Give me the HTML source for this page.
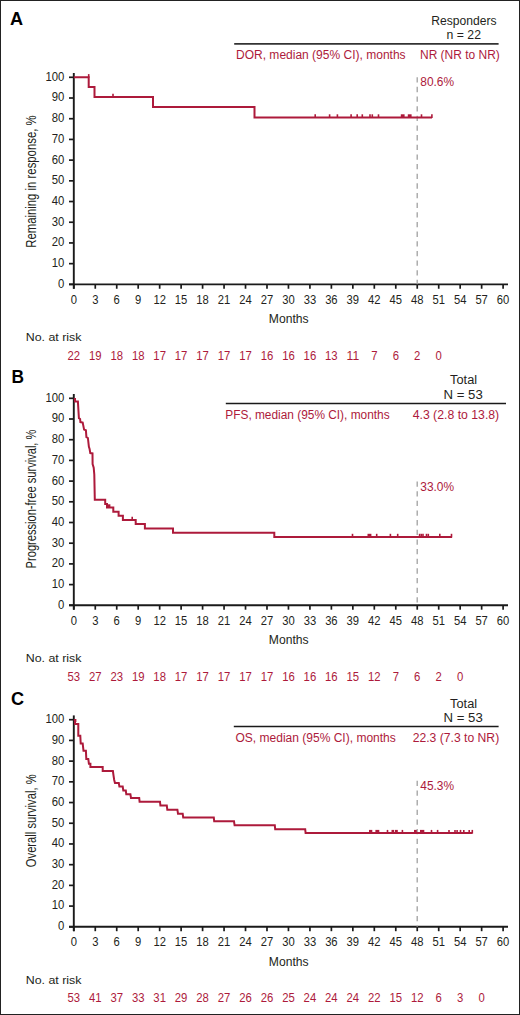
<!DOCTYPE html>
<html><head><meta charset="utf-8"><title>Kaplan-Meier curves</title>
<style>
html,body{margin:0;padding:0;background:#fff;}
body{width:520px;height:1015px;overflow:hidden;}
.frame{position:absolute;left:0;top:0;width:518px;height:1013px;border:1px solid #222;}
svg{position:absolute;left:0;top:0;display:block;font-family:"Liberation Sans", sans-serif;}
</style></head>
<body>
<div class="frame"></div>
<svg width="520" height="1015" viewBox="0 0 520 1015">
<line x1="73.80" y1="73.00" x2="73.80" y2="288.75" stroke="#1a1a1a" stroke-width="1.9"/>
<line x1="69.00" y1="284.35" x2="508.00" y2="284.35" stroke="#1a1a1a" stroke-width="1.9"/>
<line x1="69.00" y1="284.35" x2="73.80" y2="284.35" stroke="#1a1a1a" stroke-width="1.7"/>
<text x="64.30" y="287.75" font-size="12.6" text-anchor="end" fill="#231f20" font-weight="normal" textLength="6.30" lengthAdjust="spacingAndGlyphs">0</text>
<line x1="69.00" y1="263.65" x2="73.80" y2="263.65" stroke="#1a1a1a" stroke-width="1.7"/>
<text x="64.30" y="267.05" font-size="12.6" text-anchor="end" fill="#231f20" font-weight="normal" textLength="12.60" lengthAdjust="spacingAndGlyphs">10</text>
<line x1="69.00" y1="242.94" x2="73.80" y2="242.94" stroke="#1a1a1a" stroke-width="1.7"/>
<text x="64.30" y="246.34" font-size="12.6" text-anchor="end" fill="#231f20" font-weight="normal" textLength="12.60" lengthAdjust="spacingAndGlyphs">20</text>
<line x1="69.00" y1="222.24" x2="73.80" y2="222.24" stroke="#1a1a1a" stroke-width="1.7"/>
<text x="64.30" y="225.64" font-size="12.6" text-anchor="end" fill="#231f20" font-weight="normal" textLength="12.60" lengthAdjust="spacingAndGlyphs">30</text>
<line x1="69.00" y1="201.53" x2="73.80" y2="201.53" stroke="#1a1a1a" stroke-width="1.7"/>
<text x="64.30" y="204.93" font-size="12.6" text-anchor="end" fill="#231f20" font-weight="normal" textLength="12.60" lengthAdjust="spacingAndGlyphs">40</text>
<line x1="69.00" y1="180.83" x2="73.80" y2="180.83" stroke="#1a1a1a" stroke-width="1.7"/>
<text x="64.30" y="184.23" font-size="12.6" text-anchor="end" fill="#231f20" font-weight="normal" textLength="12.60" lengthAdjust="spacingAndGlyphs">50</text>
<line x1="69.00" y1="160.12" x2="73.80" y2="160.12" stroke="#1a1a1a" stroke-width="1.7"/>
<text x="64.30" y="163.52" font-size="12.6" text-anchor="end" fill="#231f20" font-weight="normal" textLength="12.60" lengthAdjust="spacingAndGlyphs">60</text>
<line x1="69.00" y1="139.42" x2="73.80" y2="139.42" stroke="#1a1a1a" stroke-width="1.7"/>
<text x="64.30" y="142.82" font-size="12.6" text-anchor="end" fill="#231f20" font-weight="normal" textLength="12.60" lengthAdjust="spacingAndGlyphs">70</text>
<line x1="69.00" y1="118.71" x2="73.80" y2="118.71" stroke="#1a1a1a" stroke-width="1.7"/>
<text x="64.30" y="122.11" font-size="12.6" text-anchor="end" fill="#231f20" font-weight="normal" textLength="12.60" lengthAdjust="spacingAndGlyphs">80</text>
<line x1="69.00" y1="98.01" x2="73.80" y2="98.01" stroke="#1a1a1a" stroke-width="1.7"/>
<text x="64.30" y="101.41" font-size="12.6" text-anchor="end" fill="#231f20" font-weight="normal" textLength="12.60" lengthAdjust="spacingAndGlyphs">90</text>
<line x1="69.00" y1="77.30" x2="73.80" y2="77.30" stroke="#1a1a1a" stroke-width="1.7"/>
<text x="64.30" y="80.70" font-size="12.6" text-anchor="end" fill="#231f20" font-weight="normal" textLength="18.90" lengthAdjust="spacingAndGlyphs">100</text>
<line x1="73.80" y1="284.35" x2="73.80" y2="288.75" stroke="#1a1a1a" stroke-width="1.7"/>
<text x="73.80" y="303.65" font-size="12.6" text-anchor="middle" fill="#231f20" font-weight="normal" textLength="6.25" lengthAdjust="spacingAndGlyphs">0</text>
<line x1="95.27" y1="284.35" x2="95.27" y2="288.75" stroke="#1a1a1a" stroke-width="1.7"/>
<text x="95.27" y="303.65" font-size="12.6" text-anchor="middle" fill="#231f20" font-weight="normal" textLength="6.25" lengthAdjust="spacingAndGlyphs">3</text>
<line x1="116.73" y1="284.35" x2="116.73" y2="288.75" stroke="#1a1a1a" stroke-width="1.7"/>
<text x="116.73" y="303.65" font-size="12.6" text-anchor="middle" fill="#231f20" font-weight="normal" textLength="6.25" lengthAdjust="spacingAndGlyphs">6</text>
<line x1="138.19" y1="284.35" x2="138.19" y2="288.75" stroke="#1a1a1a" stroke-width="1.7"/>
<text x="138.19" y="303.65" font-size="12.6" text-anchor="middle" fill="#231f20" font-weight="normal" textLength="6.25" lengthAdjust="spacingAndGlyphs">9</text>
<line x1="159.66" y1="284.35" x2="159.66" y2="288.75" stroke="#1a1a1a" stroke-width="1.7"/>
<text x="159.66" y="303.65" font-size="12.6" text-anchor="middle" fill="#231f20" font-weight="normal" textLength="12.50" lengthAdjust="spacingAndGlyphs">12</text>
<line x1="181.12" y1="284.35" x2="181.12" y2="288.75" stroke="#1a1a1a" stroke-width="1.7"/>
<text x="181.12" y="303.65" font-size="12.6" text-anchor="middle" fill="#231f20" font-weight="normal" textLength="12.50" lengthAdjust="spacingAndGlyphs">15</text>
<line x1="202.59" y1="284.35" x2="202.59" y2="288.75" stroke="#1a1a1a" stroke-width="1.7"/>
<text x="202.59" y="303.65" font-size="12.6" text-anchor="middle" fill="#231f20" font-weight="normal" textLength="12.50" lengthAdjust="spacingAndGlyphs">18</text>
<line x1="224.06" y1="284.35" x2="224.06" y2="288.75" stroke="#1a1a1a" stroke-width="1.7"/>
<text x="224.06" y="303.65" font-size="12.6" text-anchor="middle" fill="#231f20" font-weight="normal" textLength="12.50" lengthAdjust="spacingAndGlyphs">21</text>
<line x1="245.52" y1="284.35" x2="245.52" y2="288.75" stroke="#1a1a1a" stroke-width="1.7"/>
<text x="245.52" y="303.65" font-size="12.6" text-anchor="middle" fill="#231f20" font-weight="normal" textLength="12.50" lengthAdjust="spacingAndGlyphs">24</text>
<line x1="266.99" y1="284.35" x2="266.99" y2="288.75" stroke="#1a1a1a" stroke-width="1.7"/>
<text x="266.99" y="303.65" font-size="12.6" text-anchor="middle" fill="#231f20" font-weight="normal" textLength="12.50" lengthAdjust="spacingAndGlyphs">27</text>
<line x1="288.45" y1="284.35" x2="288.45" y2="288.75" stroke="#1a1a1a" stroke-width="1.7"/>
<text x="288.45" y="303.65" font-size="12.6" text-anchor="middle" fill="#231f20" font-weight="normal" textLength="12.50" lengthAdjust="spacingAndGlyphs">30</text>
<line x1="309.92" y1="284.35" x2="309.92" y2="288.75" stroke="#1a1a1a" stroke-width="1.7"/>
<text x="309.92" y="303.65" font-size="12.6" text-anchor="middle" fill="#231f20" font-weight="normal" textLength="12.50" lengthAdjust="spacingAndGlyphs">33</text>
<line x1="331.38" y1="284.35" x2="331.38" y2="288.75" stroke="#1a1a1a" stroke-width="1.7"/>
<text x="331.38" y="303.65" font-size="12.6" text-anchor="middle" fill="#231f20" font-weight="normal" textLength="12.50" lengthAdjust="spacingAndGlyphs">36</text>
<line x1="352.85" y1="284.35" x2="352.85" y2="288.75" stroke="#1a1a1a" stroke-width="1.7"/>
<text x="352.85" y="303.65" font-size="12.6" text-anchor="middle" fill="#231f20" font-weight="normal" textLength="12.50" lengthAdjust="spacingAndGlyphs">39</text>
<line x1="374.31" y1="284.35" x2="374.31" y2="288.75" stroke="#1a1a1a" stroke-width="1.7"/>
<text x="374.31" y="303.65" font-size="12.6" text-anchor="middle" fill="#231f20" font-weight="normal" textLength="12.50" lengthAdjust="spacingAndGlyphs">42</text>
<line x1="395.78" y1="284.35" x2="395.78" y2="288.75" stroke="#1a1a1a" stroke-width="1.7"/>
<text x="395.78" y="303.65" font-size="12.6" text-anchor="middle" fill="#231f20" font-weight="normal" textLength="12.50" lengthAdjust="spacingAndGlyphs">45</text>
<line x1="417.24" y1="284.35" x2="417.24" y2="288.75" stroke="#1a1a1a" stroke-width="1.7"/>
<text x="417.24" y="303.65" font-size="12.6" text-anchor="middle" fill="#231f20" font-weight="normal" textLength="12.50" lengthAdjust="spacingAndGlyphs">48</text>
<line x1="438.71" y1="284.35" x2="438.71" y2="288.75" stroke="#1a1a1a" stroke-width="1.7"/>
<text x="438.71" y="303.65" font-size="12.6" text-anchor="middle" fill="#231f20" font-weight="normal" textLength="12.50" lengthAdjust="spacingAndGlyphs">51</text>
<line x1="460.17" y1="284.35" x2="460.17" y2="288.75" stroke="#1a1a1a" stroke-width="1.7"/>
<text x="460.17" y="303.65" font-size="12.6" text-anchor="middle" fill="#231f20" font-weight="normal" textLength="12.50" lengthAdjust="spacingAndGlyphs">54</text>
<line x1="481.64" y1="284.35" x2="481.64" y2="288.75" stroke="#1a1a1a" stroke-width="1.7"/>
<text x="481.64" y="303.65" font-size="12.6" text-anchor="middle" fill="#231f20" font-weight="normal" textLength="12.50" lengthAdjust="spacingAndGlyphs">57</text>
<line x1="503.10" y1="284.35" x2="503.10" y2="288.75" stroke="#1a1a1a" stroke-width="1.7"/>
<text x="503.10" y="303.65" font-size="12.6" text-anchor="middle" fill="#231f20" font-weight="normal" textLength="12.50" lengthAdjust="spacingAndGlyphs">60</text>
<text x="288.70" y="323.25" font-size="13.6" text-anchor="middle" fill="#231f20" font-weight="normal" textLength="39.80" lengthAdjust="spacingAndGlyphs">Months</text>
<text x="25.70" y="341.45" font-size="11.4" text-anchor="start" fill="#231f20" font-weight="normal" textLength="55.80" lengthAdjust="spacingAndGlyphs">No. at risk</text>
<text x="73.80" y="359.55" font-size="12.6" text-anchor="middle" fill="#ad1a3b" font-weight="normal" textLength="12.60" lengthAdjust="spacingAndGlyphs">22</text>
<text x="95.27" y="359.55" font-size="12.6" text-anchor="middle" fill="#ad1a3b" font-weight="normal" textLength="12.60" lengthAdjust="spacingAndGlyphs">19</text>
<text x="116.73" y="359.55" font-size="12.6" text-anchor="middle" fill="#ad1a3b" font-weight="normal" textLength="12.60" lengthAdjust="spacingAndGlyphs">18</text>
<text x="138.19" y="359.55" font-size="12.6" text-anchor="middle" fill="#ad1a3b" font-weight="normal" textLength="12.60" lengthAdjust="spacingAndGlyphs">18</text>
<text x="159.66" y="359.55" font-size="12.6" text-anchor="middle" fill="#ad1a3b" font-weight="normal" textLength="12.60" lengthAdjust="spacingAndGlyphs">17</text>
<text x="181.12" y="359.55" font-size="12.6" text-anchor="middle" fill="#ad1a3b" font-weight="normal" textLength="12.60" lengthAdjust="spacingAndGlyphs">17</text>
<text x="202.59" y="359.55" font-size="12.6" text-anchor="middle" fill="#ad1a3b" font-weight="normal" textLength="12.60" lengthAdjust="spacingAndGlyphs">17</text>
<text x="224.06" y="359.55" font-size="12.6" text-anchor="middle" fill="#ad1a3b" font-weight="normal" textLength="12.60" lengthAdjust="spacingAndGlyphs">17</text>
<text x="245.52" y="359.55" font-size="12.6" text-anchor="middle" fill="#ad1a3b" font-weight="normal" textLength="12.60" lengthAdjust="spacingAndGlyphs">17</text>
<text x="266.99" y="359.55" font-size="12.6" text-anchor="middle" fill="#ad1a3b" font-weight="normal" textLength="12.60" lengthAdjust="spacingAndGlyphs">16</text>
<text x="288.45" y="359.55" font-size="12.6" text-anchor="middle" fill="#ad1a3b" font-weight="normal" textLength="12.60" lengthAdjust="spacingAndGlyphs">16</text>
<text x="309.92" y="359.55" font-size="12.6" text-anchor="middle" fill="#ad1a3b" font-weight="normal" textLength="12.60" lengthAdjust="spacingAndGlyphs">16</text>
<text x="331.38" y="359.55" font-size="12.6" text-anchor="middle" fill="#ad1a3b" font-weight="normal" textLength="12.60" lengthAdjust="spacingAndGlyphs">13</text>
<text x="352.85" y="359.55" font-size="12.6" text-anchor="middle" fill="#ad1a3b" font-weight="normal" textLength="12.60" lengthAdjust="spacingAndGlyphs">11</text>
<text x="374.31" y="359.55" font-size="12.6" text-anchor="middle" fill="#ad1a3b" font-weight="normal" textLength="6.30" lengthAdjust="spacingAndGlyphs">7</text>
<text x="395.78" y="359.55" font-size="12.6" text-anchor="middle" fill="#ad1a3b" font-weight="normal" textLength="6.30" lengthAdjust="spacingAndGlyphs">6</text>
<text x="417.24" y="359.55" font-size="12.6" text-anchor="middle" fill="#ad1a3b" font-weight="normal" textLength="6.30" lengthAdjust="spacingAndGlyphs">2</text>
<text x="438.71" y="359.55" font-size="12.6" text-anchor="middle" fill="#ad1a3b" font-weight="normal" textLength="6.30" lengthAdjust="spacingAndGlyphs">0</text>
<text transform="translate(36.0,181.60) rotate(-90)" x="0" y="0" font-size="14.6" text-anchor="middle" fill="#231f20" textLength="132.40" lengthAdjust="spacingAndGlyphs">Remaining in response, %</text>
<line x1="417.20" y1="77.20" x2="417.20" y2="284.30" stroke="#a0a0a0" stroke-width="1.3" stroke-dasharray="5.3,4.35"/>
<path d="M73.80,77.30 L88.70,77.30 L88.70,86.90 L94.50,86.90 L94.50,97.00 L153.00,97.00 L153.00,106.90 L254.50,106.90 L254.50,117.50 L432.00,117.50" fill="none" stroke="#ad1a3b" stroke-width="2" stroke-linejoin="miter" stroke-linecap="butt"/>
<line x1="88.70" y1="77.80" x2="88.70" y2="74.10" stroke="#ad1a3b" stroke-width="1.6"/>
<line x1="113.00" y1="97.50" x2="113.00" y2="93.80" stroke="#ad1a3b" stroke-width="1.6"/>
<line x1="315.20" y1="118.00" x2="315.20" y2="114.30" stroke="#ad1a3b" stroke-width="1.6"/>
<line x1="329.60" y1="118.00" x2="329.60" y2="114.30" stroke="#ad1a3b" stroke-width="1.6"/>
<line x1="337.40" y1="118.00" x2="337.40" y2="114.30" stroke="#ad1a3b" stroke-width="1.6"/>
<line x1="351.10" y1="118.00" x2="351.10" y2="114.30" stroke="#ad1a3b" stroke-width="1.6"/>
<line x1="357.20" y1="118.00" x2="357.20" y2="114.30" stroke="#ad1a3b" stroke-width="1.6"/>
<line x1="362.30" y1="118.00" x2="362.30" y2="114.30" stroke="#ad1a3b" stroke-width="1.6"/>
<line x1="370.00" y1="118.00" x2="370.00" y2="114.30" stroke="#ad1a3b" stroke-width="1.6"/>
<line x1="372.30" y1="118.00" x2="372.30" y2="114.30" stroke="#ad1a3b" stroke-width="1.6"/>
<line x1="378.50" y1="118.00" x2="378.50" y2="114.30" stroke="#ad1a3b" stroke-width="1.6"/>
<rect x="400.80" y="114.30" width="3.80" height="3.70" fill="#ad1a3b"/>
<rect x="407.80" y="114.30" width="3.80" height="3.70" fill="#ad1a3b"/>
<line x1="421.50" y1="118.00" x2="421.50" y2="114.30" stroke="#ad1a3b" stroke-width="1.6"/>
<line x1="431.90" y1="118.00" x2="431.90" y2="114.30" stroke="#ad1a3b" stroke-width="1.6"/>
<line x1="73.80" y1="394.00" x2="73.80" y2="609.70" stroke="#1a1a1a" stroke-width="1.9"/>
<line x1="69.00" y1="605.30" x2="508.00" y2="605.30" stroke="#1a1a1a" stroke-width="1.9"/>
<line x1="69.00" y1="605.30" x2="73.80" y2="605.30" stroke="#1a1a1a" stroke-width="1.7"/>
<text x="64.30" y="608.70" font-size="12.6" text-anchor="end" fill="#231f20" font-weight="normal" textLength="6.30" lengthAdjust="spacingAndGlyphs">0</text>
<line x1="69.00" y1="584.60" x2="73.80" y2="584.60" stroke="#1a1a1a" stroke-width="1.7"/>
<text x="64.30" y="588.00" font-size="12.6" text-anchor="end" fill="#231f20" font-weight="normal" textLength="12.60" lengthAdjust="spacingAndGlyphs">10</text>
<line x1="69.00" y1="563.90" x2="73.80" y2="563.90" stroke="#1a1a1a" stroke-width="1.7"/>
<text x="64.30" y="567.30" font-size="12.6" text-anchor="end" fill="#231f20" font-weight="normal" textLength="12.60" lengthAdjust="spacingAndGlyphs">20</text>
<line x1="69.00" y1="543.20" x2="73.80" y2="543.20" stroke="#1a1a1a" stroke-width="1.7"/>
<text x="64.30" y="546.60" font-size="12.6" text-anchor="end" fill="#231f20" font-weight="normal" textLength="12.60" lengthAdjust="spacingAndGlyphs">30</text>
<line x1="69.00" y1="522.50" x2="73.80" y2="522.50" stroke="#1a1a1a" stroke-width="1.7"/>
<text x="64.30" y="525.90" font-size="12.6" text-anchor="end" fill="#231f20" font-weight="normal" textLength="12.60" lengthAdjust="spacingAndGlyphs">40</text>
<line x1="69.00" y1="501.80" x2="73.80" y2="501.80" stroke="#1a1a1a" stroke-width="1.7"/>
<text x="64.30" y="505.20" font-size="12.6" text-anchor="end" fill="#231f20" font-weight="normal" textLength="12.60" lengthAdjust="spacingAndGlyphs">50</text>
<line x1="69.00" y1="481.10" x2="73.80" y2="481.10" stroke="#1a1a1a" stroke-width="1.7"/>
<text x="64.30" y="484.50" font-size="12.6" text-anchor="end" fill="#231f20" font-weight="normal" textLength="12.60" lengthAdjust="spacingAndGlyphs">60</text>
<line x1="69.00" y1="460.40" x2="73.80" y2="460.40" stroke="#1a1a1a" stroke-width="1.7"/>
<text x="64.30" y="463.80" font-size="12.6" text-anchor="end" fill="#231f20" font-weight="normal" textLength="12.60" lengthAdjust="spacingAndGlyphs">70</text>
<line x1="69.00" y1="439.70" x2="73.80" y2="439.70" stroke="#1a1a1a" stroke-width="1.7"/>
<text x="64.30" y="443.10" font-size="12.6" text-anchor="end" fill="#231f20" font-weight="normal" textLength="12.60" lengthAdjust="spacingAndGlyphs">80</text>
<line x1="69.00" y1="419.00" x2="73.80" y2="419.00" stroke="#1a1a1a" stroke-width="1.7"/>
<text x="64.30" y="422.40" font-size="12.6" text-anchor="end" fill="#231f20" font-weight="normal" textLength="12.60" lengthAdjust="spacingAndGlyphs">90</text>
<line x1="69.00" y1="398.30" x2="73.80" y2="398.30" stroke="#1a1a1a" stroke-width="1.7"/>
<text x="64.30" y="401.70" font-size="12.6" text-anchor="end" fill="#231f20" font-weight="normal" textLength="18.90" lengthAdjust="spacingAndGlyphs">100</text>
<line x1="73.80" y1="605.30" x2="73.80" y2="609.70" stroke="#1a1a1a" stroke-width="1.7"/>
<text x="73.80" y="624.60" font-size="12.6" text-anchor="middle" fill="#231f20" font-weight="normal" textLength="6.25" lengthAdjust="spacingAndGlyphs">0</text>
<line x1="95.27" y1="605.30" x2="95.27" y2="609.70" stroke="#1a1a1a" stroke-width="1.7"/>
<text x="95.27" y="624.60" font-size="12.6" text-anchor="middle" fill="#231f20" font-weight="normal" textLength="6.25" lengthAdjust="spacingAndGlyphs">3</text>
<line x1="116.73" y1="605.30" x2="116.73" y2="609.70" stroke="#1a1a1a" stroke-width="1.7"/>
<text x="116.73" y="624.60" font-size="12.6" text-anchor="middle" fill="#231f20" font-weight="normal" textLength="6.25" lengthAdjust="spacingAndGlyphs">6</text>
<line x1="138.19" y1="605.30" x2="138.19" y2="609.70" stroke="#1a1a1a" stroke-width="1.7"/>
<text x="138.19" y="624.60" font-size="12.6" text-anchor="middle" fill="#231f20" font-weight="normal" textLength="6.25" lengthAdjust="spacingAndGlyphs">9</text>
<line x1="159.66" y1="605.30" x2="159.66" y2="609.70" stroke="#1a1a1a" stroke-width="1.7"/>
<text x="159.66" y="624.60" font-size="12.6" text-anchor="middle" fill="#231f20" font-weight="normal" textLength="12.50" lengthAdjust="spacingAndGlyphs">12</text>
<line x1="181.12" y1="605.30" x2="181.12" y2="609.70" stroke="#1a1a1a" stroke-width="1.7"/>
<text x="181.12" y="624.60" font-size="12.6" text-anchor="middle" fill="#231f20" font-weight="normal" textLength="12.50" lengthAdjust="spacingAndGlyphs">15</text>
<line x1="202.59" y1="605.30" x2="202.59" y2="609.70" stroke="#1a1a1a" stroke-width="1.7"/>
<text x="202.59" y="624.60" font-size="12.6" text-anchor="middle" fill="#231f20" font-weight="normal" textLength="12.50" lengthAdjust="spacingAndGlyphs">18</text>
<line x1="224.06" y1="605.30" x2="224.06" y2="609.70" stroke="#1a1a1a" stroke-width="1.7"/>
<text x="224.06" y="624.60" font-size="12.6" text-anchor="middle" fill="#231f20" font-weight="normal" textLength="12.50" lengthAdjust="spacingAndGlyphs">21</text>
<line x1="245.52" y1="605.30" x2="245.52" y2="609.70" stroke="#1a1a1a" stroke-width="1.7"/>
<text x="245.52" y="624.60" font-size="12.6" text-anchor="middle" fill="#231f20" font-weight="normal" textLength="12.50" lengthAdjust="spacingAndGlyphs">24</text>
<line x1="266.99" y1="605.30" x2="266.99" y2="609.70" stroke="#1a1a1a" stroke-width="1.7"/>
<text x="266.99" y="624.60" font-size="12.6" text-anchor="middle" fill="#231f20" font-weight="normal" textLength="12.50" lengthAdjust="spacingAndGlyphs">27</text>
<line x1="288.45" y1="605.30" x2="288.45" y2="609.70" stroke="#1a1a1a" stroke-width="1.7"/>
<text x="288.45" y="624.60" font-size="12.6" text-anchor="middle" fill="#231f20" font-weight="normal" textLength="12.50" lengthAdjust="spacingAndGlyphs">30</text>
<line x1="309.92" y1="605.30" x2="309.92" y2="609.70" stroke="#1a1a1a" stroke-width="1.7"/>
<text x="309.92" y="624.60" font-size="12.6" text-anchor="middle" fill="#231f20" font-weight="normal" textLength="12.50" lengthAdjust="spacingAndGlyphs">33</text>
<line x1="331.38" y1="605.30" x2="331.38" y2="609.70" stroke="#1a1a1a" stroke-width="1.7"/>
<text x="331.38" y="624.60" font-size="12.6" text-anchor="middle" fill="#231f20" font-weight="normal" textLength="12.50" lengthAdjust="spacingAndGlyphs">36</text>
<line x1="352.85" y1="605.30" x2="352.85" y2="609.70" stroke="#1a1a1a" stroke-width="1.7"/>
<text x="352.85" y="624.60" font-size="12.6" text-anchor="middle" fill="#231f20" font-weight="normal" textLength="12.50" lengthAdjust="spacingAndGlyphs">39</text>
<line x1="374.31" y1="605.30" x2="374.31" y2="609.70" stroke="#1a1a1a" stroke-width="1.7"/>
<text x="374.31" y="624.60" font-size="12.6" text-anchor="middle" fill="#231f20" font-weight="normal" textLength="12.50" lengthAdjust="spacingAndGlyphs">42</text>
<line x1="395.78" y1="605.30" x2="395.78" y2="609.70" stroke="#1a1a1a" stroke-width="1.7"/>
<text x="395.78" y="624.60" font-size="12.6" text-anchor="middle" fill="#231f20" font-weight="normal" textLength="12.50" lengthAdjust="spacingAndGlyphs">45</text>
<line x1="417.24" y1="605.30" x2="417.24" y2="609.70" stroke="#1a1a1a" stroke-width="1.7"/>
<text x="417.24" y="624.60" font-size="12.6" text-anchor="middle" fill="#231f20" font-weight="normal" textLength="12.50" lengthAdjust="spacingAndGlyphs">48</text>
<line x1="438.71" y1="605.30" x2="438.71" y2="609.70" stroke="#1a1a1a" stroke-width="1.7"/>
<text x="438.71" y="624.60" font-size="12.6" text-anchor="middle" fill="#231f20" font-weight="normal" textLength="12.50" lengthAdjust="spacingAndGlyphs">51</text>
<line x1="460.17" y1="605.30" x2="460.17" y2="609.70" stroke="#1a1a1a" stroke-width="1.7"/>
<text x="460.17" y="624.60" font-size="12.6" text-anchor="middle" fill="#231f20" font-weight="normal" textLength="12.50" lengthAdjust="spacingAndGlyphs">54</text>
<line x1="481.64" y1="605.30" x2="481.64" y2="609.70" stroke="#1a1a1a" stroke-width="1.7"/>
<text x="481.64" y="624.60" font-size="12.6" text-anchor="middle" fill="#231f20" font-weight="normal" textLength="12.50" lengthAdjust="spacingAndGlyphs">57</text>
<line x1="503.10" y1="605.30" x2="503.10" y2="609.70" stroke="#1a1a1a" stroke-width="1.7"/>
<text x="503.10" y="624.60" font-size="12.6" text-anchor="middle" fill="#231f20" font-weight="normal" textLength="12.50" lengthAdjust="spacingAndGlyphs">60</text>
<text x="288.70" y="644.20" font-size="13.6" text-anchor="middle" fill="#231f20" font-weight="normal" textLength="39.80" lengthAdjust="spacingAndGlyphs">Months</text>
<text x="25.70" y="662.40" font-size="11.4" text-anchor="start" fill="#231f20" font-weight="normal" textLength="55.80" lengthAdjust="spacingAndGlyphs">No. at risk</text>
<text x="73.80" y="680.50" font-size="12.6" text-anchor="middle" fill="#ad1a3b" font-weight="normal" textLength="12.60" lengthAdjust="spacingAndGlyphs">53</text>
<text x="95.27" y="680.50" font-size="12.6" text-anchor="middle" fill="#ad1a3b" font-weight="normal" textLength="12.60" lengthAdjust="spacingAndGlyphs">27</text>
<text x="116.73" y="680.50" font-size="12.6" text-anchor="middle" fill="#ad1a3b" font-weight="normal" textLength="12.60" lengthAdjust="spacingAndGlyphs">23</text>
<text x="138.19" y="680.50" font-size="12.6" text-anchor="middle" fill="#ad1a3b" font-weight="normal" textLength="12.60" lengthAdjust="spacingAndGlyphs">19</text>
<text x="159.66" y="680.50" font-size="12.6" text-anchor="middle" fill="#ad1a3b" font-weight="normal" textLength="12.60" lengthAdjust="spacingAndGlyphs">18</text>
<text x="181.12" y="680.50" font-size="12.6" text-anchor="middle" fill="#ad1a3b" font-weight="normal" textLength="12.60" lengthAdjust="spacingAndGlyphs">17</text>
<text x="202.59" y="680.50" font-size="12.6" text-anchor="middle" fill="#ad1a3b" font-weight="normal" textLength="12.60" lengthAdjust="spacingAndGlyphs">17</text>
<text x="224.06" y="680.50" font-size="12.6" text-anchor="middle" fill="#ad1a3b" font-weight="normal" textLength="12.60" lengthAdjust="spacingAndGlyphs">17</text>
<text x="245.52" y="680.50" font-size="12.6" text-anchor="middle" fill="#ad1a3b" font-weight="normal" textLength="12.60" lengthAdjust="spacingAndGlyphs">17</text>
<text x="266.99" y="680.50" font-size="12.6" text-anchor="middle" fill="#ad1a3b" font-weight="normal" textLength="12.60" lengthAdjust="spacingAndGlyphs">17</text>
<text x="288.45" y="680.50" font-size="12.6" text-anchor="middle" fill="#ad1a3b" font-weight="normal" textLength="12.60" lengthAdjust="spacingAndGlyphs">16</text>
<text x="309.92" y="680.50" font-size="12.6" text-anchor="middle" fill="#ad1a3b" font-weight="normal" textLength="12.60" lengthAdjust="spacingAndGlyphs">16</text>
<text x="331.38" y="680.50" font-size="12.6" text-anchor="middle" fill="#ad1a3b" font-weight="normal" textLength="12.60" lengthAdjust="spacingAndGlyphs">16</text>
<text x="352.85" y="680.50" font-size="12.6" text-anchor="middle" fill="#ad1a3b" font-weight="normal" textLength="12.60" lengthAdjust="spacingAndGlyphs">15</text>
<text x="374.31" y="680.50" font-size="12.6" text-anchor="middle" fill="#ad1a3b" font-weight="normal" textLength="12.60" lengthAdjust="spacingAndGlyphs">12</text>
<text x="395.78" y="680.50" font-size="12.6" text-anchor="middle" fill="#ad1a3b" font-weight="normal" textLength="6.30" lengthAdjust="spacingAndGlyphs">7</text>
<text x="417.24" y="680.50" font-size="12.6" text-anchor="middle" fill="#ad1a3b" font-weight="normal" textLength="6.30" lengthAdjust="spacingAndGlyphs">6</text>
<text x="438.71" y="680.50" font-size="12.6" text-anchor="middle" fill="#ad1a3b" font-weight="normal" textLength="6.30" lengthAdjust="spacingAndGlyphs">2</text>
<text x="460.17" y="680.50" font-size="12.6" text-anchor="middle" fill="#ad1a3b" font-weight="normal" textLength="6.30" lengthAdjust="spacingAndGlyphs">0</text>
<text transform="translate(36.0,499.00) rotate(-90)" x="0" y="0" font-size="14.6" text-anchor="middle" fill="#231f20" textLength="138.80" lengthAdjust="spacingAndGlyphs">Progression-free survival, %</text>
<line x1="417.20" y1="481.50" x2="417.20" y2="605.30" stroke="#a0a0a0" stroke-width="1.3" stroke-dasharray="5.3,4.35"/>
<path d="M73.80,398.90 L75.00,398.90 L75.00,401.40 L77.90,401.40 L78.90,418.20 L80.10,419.00 L80.40,422.10 L82.70,422.60 L84.10,429.60 L85.90,430.20 L86.40,437.10 L87.90,438.00 L88.90,446.90 L89.60,449.00 L90.30,453.10 L92.50,453.40 L92.60,464.10 L93.70,467.60 L94.30,474.50 L94.80,499.80 L105.20,499.80 L105.20,504.10 L107.00,504.10 L107.00,507.50 L113.30,507.50 L113.30,511.80 L118.60,511.80 L118.60,515.80 L122.90,515.80 L122.90,520.00 L135.70,520.00 L135.70,524.00 L144.90,524.00 L144.90,528.60 L173.00,528.60 L173.00,532.80 L274.30,532.80 L274.30,537.00 L452.00,537.00" fill="none" stroke="#ad1a3b" stroke-width="2" stroke-linejoin="miter" stroke-linecap="butt"/>
<rect x="107.20" y="504.30" width="3.20" height="3.70" fill="#ad1a3b"/>
<line x1="132.20" y1="520.50" x2="132.20" y2="516.80" stroke="#ad1a3b" stroke-width="1.6"/>
<line x1="352.50" y1="537.50" x2="352.50" y2="533.80" stroke="#ad1a3b" stroke-width="1.6"/>
<rect x="367.50" y="533.80" width="3.90" height="3.70" fill="#ad1a3b"/>
<line x1="376.70" y1="537.50" x2="376.70" y2="533.80" stroke="#ad1a3b" stroke-width="1.6"/>
<line x1="390.40" y1="537.50" x2="390.40" y2="533.80" stroke="#ad1a3b" stroke-width="1.6"/>
<line x1="397.70" y1="537.50" x2="397.70" y2="533.80" stroke="#ad1a3b" stroke-width="1.6"/>
<line x1="419.60" y1="537.50" x2="419.60" y2="533.80" stroke="#ad1a3b" stroke-width="1.6"/>
<line x1="421.30" y1="537.50" x2="421.30" y2="533.80" stroke="#ad1a3b" stroke-width="1.6"/>
<line x1="423.00" y1="537.50" x2="423.00" y2="533.80" stroke="#ad1a3b" stroke-width="1.6"/>
<line x1="426.50" y1="537.50" x2="426.50" y2="533.80" stroke="#ad1a3b" stroke-width="1.6"/>
<line x1="428.30" y1="537.50" x2="428.30" y2="533.80" stroke="#ad1a3b" stroke-width="1.6"/>
<line x1="439.80" y1="537.50" x2="439.80" y2="533.80" stroke="#ad1a3b" stroke-width="1.6"/>
<line x1="451.50" y1="537.50" x2="451.50" y2="533.80" stroke="#ad1a3b" stroke-width="1.6"/>
<line x1="73.80" y1="715.40" x2="73.80" y2="931.20" stroke="#1a1a1a" stroke-width="1.9"/>
<line x1="69.00" y1="926.80" x2="508.00" y2="926.80" stroke="#1a1a1a" stroke-width="1.9"/>
<line x1="69.00" y1="926.80" x2="73.80" y2="926.80" stroke="#1a1a1a" stroke-width="1.7"/>
<text x="64.30" y="930.20" font-size="12.6" text-anchor="end" fill="#231f20" font-weight="normal" textLength="6.30" lengthAdjust="spacingAndGlyphs">0</text>
<line x1="69.00" y1="906.09" x2="73.80" y2="906.09" stroke="#1a1a1a" stroke-width="1.7"/>
<text x="64.30" y="909.49" font-size="12.6" text-anchor="end" fill="#231f20" font-weight="normal" textLength="12.60" lengthAdjust="spacingAndGlyphs">10</text>
<line x1="69.00" y1="885.38" x2="73.80" y2="885.38" stroke="#1a1a1a" stroke-width="1.7"/>
<text x="64.30" y="888.78" font-size="12.6" text-anchor="end" fill="#231f20" font-weight="normal" textLength="12.60" lengthAdjust="spacingAndGlyphs">20</text>
<line x1="69.00" y1="864.67" x2="73.80" y2="864.67" stroke="#1a1a1a" stroke-width="1.7"/>
<text x="64.30" y="868.07" font-size="12.6" text-anchor="end" fill="#231f20" font-weight="normal" textLength="12.60" lengthAdjust="spacingAndGlyphs">30</text>
<line x1="69.00" y1="843.96" x2="73.80" y2="843.96" stroke="#1a1a1a" stroke-width="1.7"/>
<text x="64.30" y="847.36" font-size="12.6" text-anchor="end" fill="#231f20" font-weight="normal" textLength="12.60" lengthAdjust="spacingAndGlyphs">40</text>
<line x1="69.00" y1="823.25" x2="73.80" y2="823.25" stroke="#1a1a1a" stroke-width="1.7"/>
<text x="64.30" y="826.65" font-size="12.6" text-anchor="end" fill="#231f20" font-weight="normal" textLength="12.60" lengthAdjust="spacingAndGlyphs">50</text>
<line x1="69.00" y1="802.54" x2="73.80" y2="802.54" stroke="#1a1a1a" stroke-width="1.7"/>
<text x="64.30" y="805.94" font-size="12.6" text-anchor="end" fill="#231f20" font-weight="normal" textLength="12.60" lengthAdjust="spacingAndGlyphs">60</text>
<line x1="69.00" y1="781.83" x2="73.80" y2="781.83" stroke="#1a1a1a" stroke-width="1.7"/>
<text x="64.30" y="785.23" font-size="12.6" text-anchor="end" fill="#231f20" font-weight="normal" textLength="12.60" lengthAdjust="spacingAndGlyphs">70</text>
<line x1="69.00" y1="761.12" x2="73.80" y2="761.12" stroke="#1a1a1a" stroke-width="1.7"/>
<text x="64.30" y="764.52" font-size="12.6" text-anchor="end" fill="#231f20" font-weight="normal" textLength="12.60" lengthAdjust="spacingAndGlyphs">80</text>
<line x1="69.00" y1="740.41" x2="73.80" y2="740.41" stroke="#1a1a1a" stroke-width="1.7"/>
<text x="64.30" y="743.81" font-size="12.6" text-anchor="end" fill="#231f20" font-weight="normal" textLength="12.60" lengthAdjust="spacingAndGlyphs">90</text>
<line x1="69.00" y1="719.70" x2="73.80" y2="719.70" stroke="#1a1a1a" stroke-width="1.7"/>
<text x="64.30" y="723.10" font-size="12.6" text-anchor="end" fill="#231f20" font-weight="normal" textLength="18.90" lengthAdjust="spacingAndGlyphs">100</text>
<line x1="73.80" y1="926.80" x2="73.80" y2="931.20" stroke="#1a1a1a" stroke-width="1.7"/>
<text x="73.80" y="946.10" font-size="12.6" text-anchor="middle" fill="#231f20" font-weight="normal" textLength="6.25" lengthAdjust="spacingAndGlyphs">0</text>
<line x1="95.27" y1="926.80" x2="95.27" y2="931.20" stroke="#1a1a1a" stroke-width="1.7"/>
<text x="95.27" y="946.10" font-size="12.6" text-anchor="middle" fill="#231f20" font-weight="normal" textLength="6.25" lengthAdjust="spacingAndGlyphs">3</text>
<line x1="116.73" y1="926.80" x2="116.73" y2="931.20" stroke="#1a1a1a" stroke-width="1.7"/>
<text x="116.73" y="946.10" font-size="12.6" text-anchor="middle" fill="#231f20" font-weight="normal" textLength="6.25" lengthAdjust="spacingAndGlyphs">6</text>
<line x1="138.19" y1="926.80" x2="138.19" y2="931.20" stroke="#1a1a1a" stroke-width="1.7"/>
<text x="138.19" y="946.10" font-size="12.6" text-anchor="middle" fill="#231f20" font-weight="normal" textLength="6.25" lengthAdjust="spacingAndGlyphs">9</text>
<line x1="159.66" y1="926.80" x2="159.66" y2="931.20" stroke="#1a1a1a" stroke-width="1.7"/>
<text x="159.66" y="946.10" font-size="12.6" text-anchor="middle" fill="#231f20" font-weight="normal" textLength="12.50" lengthAdjust="spacingAndGlyphs">12</text>
<line x1="181.12" y1="926.80" x2="181.12" y2="931.20" stroke="#1a1a1a" stroke-width="1.7"/>
<text x="181.12" y="946.10" font-size="12.6" text-anchor="middle" fill="#231f20" font-weight="normal" textLength="12.50" lengthAdjust="spacingAndGlyphs">15</text>
<line x1="202.59" y1="926.80" x2="202.59" y2="931.20" stroke="#1a1a1a" stroke-width="1.7"/>
<text x="202.59" y="946.10" font-size="12.6" text-anchor="middle" fill="#231f20" font-weight="normal" textLength="12.50" lengthAdjust="spacingAndGlyphs">18</text>
<line x1="224.06" y1="926.80" x2="224.06" y2="931.20" stroke="#1a1a1a" stroke-width="1.7"/>
<text x="224.06" y="946.10" font-size="12.6" text-anchor="middle" fill="#231f20" font-weight="normal" textLength="12.50" lengthAdjust="spacingAndGlyphs">21</text>
<line x1="245.52" y1="926.80" x2="245.52" y2="931.20" stroke="#1a1a1a" stroke-width="1.7"/>
<text x="245.52" y="946.10" font-size="12.6" text-anchor="middle" fill="#231f20" font-weight="normal" textLength="12.50" lengthAdjust="spacingAndGlyphs">24</text>
<line x1="266.99" y1="926.80" x2="266.99" y2="931.20" stroke="#1a1a1a" stroke-width="1.7"/>
<text x="266.99" y="946.10" font-size="12.6" text-anchor="middle" fill="#231f20" font-weight="normal" textLength="12.50" lengthAdjust="spacingAndGlyphs">27</text>
<line x1="288.45" y1="926.80" x2="288.45" y2="931.20" stroke="#1a1a1a" stroke-width="1.7"/>
<text x="288.45" y="946.10" font-size="12.6" text-anchor="middle" fill="#231f20" font-weight="normal" textLength="12.50" lengthAdjust="spacingAndGlyphs">30</text>
<line x1="309.92" y1="926.80" x2="309.92" y2="931.20" stroke="#1a1a1a" stroke-width="1.7"/>
<text x="309.92" y="946.10" font-size="12.6" text-anchor="middle" fill="#231f20" font-weight="normal" textLength="12.50" lengthAdjust="spacingAndGlyphs">33</text>
<line x1="331.38" y1="926.80" x2="331.38" y2="931.20" stroke="#1a1a1a" stroke-width="1.7"/>
<text x="331.38" y="946.10" font-size="12.6" text-anchor="middle" fill="#231f20" font-weight="normal" textLength="12.50" lengthAdjust="spacingAndGlyphs">36</text>
<line x1="352.85" y1="926.80" x2="352.85" y2="931.20" stroke="#1a1a1a" stroke-width="1.7"/>
<text x="352.85" y="946.10" font-size="12.6" text-anchor="middle" fill="#231f20" font-weight="normal" textLength="12.50" lengthAdjust="spacingAndGlyphs">39</text>
<line x1="374.31" y1="926.80" x2="374.31" y2="931.20" stroke="#1a1a1a" stroke-width="1.7"/>
<text x="374.31" y="946.10" font-size="12.6" text-anchor="middle" fill="#231f20" font-weight="normal" textLength="12.50" lengthAdjust="spacingAndGlyphs">42</text>
<line x1="395.78" y1="926.80" x2="395.78" y2="931.20" stroke="#1a1a1a" stroke-width="1.7"/>
<text x="395.78" y="946.10" font-size="12.6" text-anchor="middle" fill="#231f20" font-weight="normal" textLength="12.50" lengthAdjust="spacingAndGlyphs">45</text>
<line x1="417.24" y1="926.80" x2="417.24" y2="931.20" stroke="#1a1a1a" stroke-width="1.7"/>
<text x="417.24" y="946.10" font-size="12.6" text-anchor="middle" fill="#231f20" font-weight="normal" textLength="12.50" lengthAdjust="spacingAndGlyphs">48</text>
<line x1="438.71" y1="926.80" x2="438.71" y2="931.20" stroke="#1a1a1a" stroke-width="1.7"/>
<text x="438.71" y="946.10" font-size="12.6" text-anchor="middle" fill="#231f20" font-weight="normal" textLength="12.50" lengthAdjust="spacingAndGlyphs">51</text>
<line x1="460.17" y1="926.80" x2="460.17" y2="931.20" stroke="#1a1a1a" stroke-width="1.7"/>
<text x="460.17" y="946.10" font-size="12.6" text-anchor="middle" fill="#231f20" font-weight="normal" textLength="12.50" lengthAdjust="spacingAndGlyphs">54</text>
<line x1="481.64" y1="926.80" x2="481.64" y2="931.20" stroke="#1a1a1a" stroke-width="1.7"/>
<text x="481.64" y="946.10" font-size="12.6" text-anchor="middle" fill="#231f20" font-weight="normal" textLength="12.50" lengthAdjust="spacingAndGlyphs">57</text>
<line x1="503.10" y1="926.80" x2="503.10" y2="931.20" stroke="#1a1a1a" stroke-width="1.7"/>
<text x="503.10" y="946.10" font-size="12.6" text-anchor="middle" fill="#231f20" font-weight="normal" textLength="12.50" lengthAdjust="spacingAndGlyphs">60</text>
<text x="288.70" y="965.70" font-size="13.6" text-anchor="middle" fill="#231f20" font-weight="normal" textLength="39.80" lengthAdjust="spacingAndGlyphs">Months</text>
<text x="25.70" y="983.90" font-size="11.4" text-anchor="start" fill="#231f20" font-weight="normal" textLength="55.80" lengthAdjust="spacingAndGlyphs">No. at risk</text>
<text x="73.80" y="1002.00" font-size="12.6" text-anchor="middle" fill="#ad1a3b" font-weight="normal" textLength="12.60" lengthAdjust="spacingAndGlyphs">53</text>
<text x="95.27" y="1002.00" font-size="12.6" text-anchor="middle" fill="#ad1a3b" font-weight="normal" textLength="12.60" lengthAdjust="spacingAndGlyphs">41</text>
<text x="116.73" y="1002.00" font-size="12.6" text-anchor="middle" fill="#ad1a3b" font-weight="normal" textLength="12.60" lengthAdjust="spacingAndGlyphs">37</text>
<text x="138.19" y="1002.00" font-size="12.6" text-anchor="middle" fill="#ad1a3b" font-weight="normal" textLength="12.60" lengthAdjust="spacingAndGlyphs">33</text>
<text x="159.66" y="1002.00" font-size="12.6" text-anchor="middle" fill="#ad1a3b" font-weight="normal" textLength="12.60" lengthAdjust="spacingAndGlyphs">31</text>
<text x="181.12" y="1002.00" font-size="12.6" text-anchor="middle" fill="#ad1a3b" font-weight="normal" textLength="12.60" lengthAdjust="spacingAndGlyphs">29</text>
<text x="202.59" y="1002.00" font-size="12.6" text-anchor="middle" fill="#ad1a3b" font-weight="normal" textLength="12.60" lengthAdjust="spacingAndGlyphs">28</text>
<text x="224.06" y="1002.00" font-size="12.6" text-anchor="middle" fill="#ad1a3b" font-weight="normal" textLength="12.60" lengthAdjust="spacingAndGlyphs">27</text>
<text x="245.52" y="1002.00" font-size="12.6" text-anchor="middle" fill="#ad1a3b" font-weight="normal" textLength="12.60" lengthAdjust="spacingAndGlyphs">26</text>
<text x="266.99" y="1002.00" font-size="12.6" text-anchor="middle" fill="#ad1a3b" font-weight="normal" textLength="12.60" lengthAdjust="spacingAndGlyphs">26</text>
<text x="288.45" y="1002.00" font-size="12.6" text-anchor="middle" fill="#ad1a3b" font-weight="normal" textLength="12.60" lengthAdjust="spacingAndGlyphs">25</text>
<text x="309.92" y="1002.00" font-size="12.6" text-anchor="middle" fill="#ad1a3b" font-weight="normal" textLength="12.60" lengthAdjust="spacingAndGlyphs">24</text>
<text x="331.38" y="1002.00" font-size="12.6" text-anchor="middle" fill="#ad1a3b" font-weight="normal" textLength="12.60" lengthAdjust="spacingAndGlyphs">24</text>
<text x="352.85" y="1002.00" font-size="12.6" text-anchor="middle" fill="#ad1a3b" font-weight="normal" textLength="12.60" lengthAdjust="spacingAndGlyphs">24</text>
<text x="374.31" y="1002.00" font-size="12.6" text-anchor="middle" fill="#ad1a3b" font-weight="normal" textLength="12.60" lengthAdjust="spacingAndGlyphs">22</text>
<text x="395.78" y="1002.00" font-size="12.6" text-anchor="middle" fill="#ad1a3b" font-weight="normal" textLength="12.60" lengthAdjust="spacingAndGlyphs">15</text>
<text x="417.24" y="1002.00" font-size="12.6" text-anchor="middle" fill="#ad1a3b" font-weight="normal" textLength="12.60" lengthAdjust="spacingAndGlyphs">12</text>
<text x="438.71" y="1002.00" font-size="12.6" text-anchor="middle" fill="#ad1a3b" font-weight="normal" textLength="6.30" lengthAdjust="spacingAndGlyphs">6</text>
<text x="460.17" y="1002.00" font-size="12.6" text-anchor="middle" fill="#ad1a3b" font-weight="normal" textLength="6.30" lengthAdjust="spacingAndGlyphs">3</text>
<text x="481.64" y="1002.00" font-size="12.6" text-anchor="middle" fill="#ad1a3b" font-weight="normal" textLength="6.30" lengthAdjust="spacingAndGlyphs">0</text>
<text transform="translate(36.0,820.80) rotate(-90)" x="0" y="0" font-size="14.6" text-anchor="middle" fill="#231f20" textLength="92.80" lengthAdjust="spacingAndGlyphs">Overall survival, %</text>
<line x1="417.20" y1="780.80" x2="417.20" y2="926.80" stroke="#a0a0a0" stroke-width="1.3" stroke-dasharray="5.3,4.35"/>
<path d="M73.80,719.90 L75.00,719.90 L75.00,723.90 L78.30,723.90 L78.30,735.80 L80.30,735.80 L80.70,743.60 L82.70,743.60 L83.50,750.80 L85.90,750.80 L86.30,758.90 L88.30,758.90 L88.90,763.70 L90.40,763.70 L90.40,767.00 L102.70,767.00 L102.70,771.00 L112.90,771.00 L113.50,775.40 L114.20,780.00 L115.00,783.00 L118.80,783.00 L119.40,786.60 L122.70,786.60 L123.30,790.50 L125.80,790.50 L126.30,794.30 L130.40,794.30 L131.00,798.00 L139.20,798.00 L139.60,801.70 L160.00,801.70 L160.40,805.60 L166.80,805.60 L167.30,809.70 L177.40,809.70 L178.00,813.70 L182.70,813.70 L183.20,817.40 L213.80,817.40 L214.20,821.30 L234.00,821.30 L234.60,825.30 L274.80,825.30 L275.20,829.20 L305.20,829.20 L305.60,833.10 L472.30,833.10" fill="none" stroke="#ad1a3b" stroke-width="2" stroke-linejoin="miter" stroke-linecap="butt"/>
<line x1="75.60" y1="722.00" x2="75.60" y2="719.00" stroke="#ad1a3b" stroke-width="1.6"/>
<rect x="369.00" y="829.90" width="3.30" height="3.70" fill="#ad1a3b"/>
<rect x="375.40" y="829.90" width="3.90" height="3.70" fill="#ad1a3b"/>
<line x1="387.50" y1="833.60" x2="387.50" y2="829.90" stroke="#ad1a3b" stroke-width="1.6"/>
<rect x="391.50" y="829.90" width="2.70" height="3.70" fill="#ad1a3b"/>
<rect x="395.00" y="829.90" width="2.80" height="3.70" fill="#ad1a3b"/>
<line x1="402.40" y1="833.60" x2="402.40" y2="829.90" stroke="#ad1a3b" stroke-width="1.6"/>
<rect x="414.00" y="829.90" width="2.80" height="3.70" fill="#ad1a3b"/>
<rect x="420.00" y="829.90" width="4.30" height="3.70" fill="#ad1a3b"/>
<line x1="431.50" y1="833.60" x2="431.50" y2="829.90" stroke="#ad1a3b" stroke-width="1.6"/>
<line x1="437.60" y1="833.60" x2="437.60" y2="829.90" stroke="#ad1a3b" stroke-width="1.6"/>
<line x1="449.00" y1="833.60" x2="449.00" y2="829.90" stroke="#ad1a3b" stroke-width="1.6"/>
<line x1="455.00" y1="833.60" x2="455.00" y2="829.90" stroke="#ad1a3b" stroke-width="1.6"/>
<line x1="457.10" y1="833.60" x2="457.10" y2="829.90" stroke="#ad1a3b" stroke-width="1.6"/>
<line x1="460.50" y1="833.60" x2="460.50" y2="829.90" stroke="#ad1a3b" stroke-width="1.6"/>
<line x1="463.80" y1="833.60" x2="463.80" y2="829.90" stroke="#ad1a3b" stroke-width="1.6"/>
<line x1="469.20" y1="833.60" x2="469.20" y2="829.90" stroke="#ad1a3b" stroke-width="1.6"/>
<line x1="472.30" y1="833.60" x2="472.30" y2="829.90" stroke="#ad1a3b" stroke-width="1.6"/>
<text x="10.10" y="24.60" font-size="17.5" text-anchor="start" fill="#000" font-weight="bold" textLength="13.10" lengthAdjust="spacingAndGlyphs">A</text>
<text x="11.60" y="382.60" font-size="17.5" text-anchor="start" fill="#000" font-weight="bold" textLength="12.50" lengthAdjust="spacingAndGlyphs">B</text>
<text x="10.90" y="704.60" font-size="17.5" text-anchor="start" fill="#000" font-weight="bold" textLength="13.10" lengthAdjust="spacingAndGlyphs">C</text>
<text x="463.90" y="25.00" font-size="12" text-anchor="middle" fill="#231f20" font-weight="normal" textLength="65.30" lengthAdjust="spacingAndGlyphs">Responders</text>
<text x="463.80" y="39.00" font-size="12" text-anchor="middle" fill="#231f20" font-weight="normal" textLength="34.40" lengthAdjust="spacingAndGlyphs">n = 22</text>
<line x1="234.20" y1="43.85" x2="498.60" y2="43.85" stroke="#333" stroke-width="1.8"/>
<text x="236.00" y="58.60" font-size="12.5" text-anchor="start" fill="#ad1a3b" font-weight="normal" textLength="169.60" lengthAdjust="spacingAndGlyphs">DOR, median (95% CI), months</text>
<text x="420.00" y="58.60" font-size="12.5" text-anchor="start" fill="#ad1a3b" font-weight="normal" textLength="79.80" lengthAdjust="spacingAndGlyphs">NR (NR to NR)</text>
<text x="420.30" y="85.60" font-size="12.5" text-anchor="start" fill="#ad1a3b" font-weight="normal" textLength="33.80" lengthAdjust="spacingAndGlyphs">80.6%</text>
<text x="463.60" y="384.40" font-size="12" text-anchor="middle" fill="#231f20" font-weight="normal" textLength="27.00" lengthAdjust="spacingAndGlyphs">Total</text>
<text x="463.20" y="398.70" font-size="12" text-anchor="middle" fill="#231f20" font-weight="normal" textLength="39.20" lengthAdjust="spacingAndGlyphs">N = 53</text>
<line x1="225.80" y1="403.50" x2="506.00" y2="403.50" stroke="#1a1a1a" stroke-width="1.6"/>
<text x="225.30" y="418.60" font-size="12.5" text-anchor="start" fill="#ad1a3b" font-weight="normal" textLength="164.30" lengthAdjust="spacingAndGlyphs">PFS, median (95% CI), months</text>
<text x="412.70" y="418.60" font-size="12.5" text-anchor="start" fill="#ad1a3b" font-weight="normal" textLength="86.50" lengthAdjust="spacingAndGlyphs">4.3 (2.8 to 13.8)</text>
<text x="420.30" y="490.90" font-size="12.5" text-anchor="start" fill="#ad1a3b" font-weight="normal" textLength="33.80" lengthAdjust="spacingAndGlyphs">33.0%</text>
<text x="463.60" y="708.00" font-size="12" text-anchor="middle" fill="#231f20" font-weight="normal" textLength="27.00" lengthAdjust="spacingAndGlyphs">Total</text>
<text x="463.20" y="722.30" font-size="12" text-anchor="middle" fill="#231f20" font-weight="normal" textLength="39.20" lengthAdjust="spacingAndGlyphs">N = 53</text>
<line x1="233.80" y1="726.50" x2="498.60" y2="726.50" stroke="#1a1a1a" stroke-width="1.6"/>
<text x="235.50" y="741.60" font-size="12.5" text-anchor="start" fill="#ad1a3b" font-weight="normal" textLength="160.30" lengthAdjust="spacingAndGlyphs">OS, median (95% CI), months</text>
<text x="412.70" y="741.60" font-size="12.5" text-anchor="start" fill="#ad1a3b" font-weight="normal" textLength="86.50" lengthAdjust="spacingAndGlyphs">22.3 (7.3 to NR)</text>
<text x="420.30" y="790.20" font-size="12.5" text-anchor="start" fill="#ad1a3b" font-weight="normal" textLength="33.80" lengthAdjust="spacingAndGlyphs">45.3%</text>
</svg>
</body></html>
